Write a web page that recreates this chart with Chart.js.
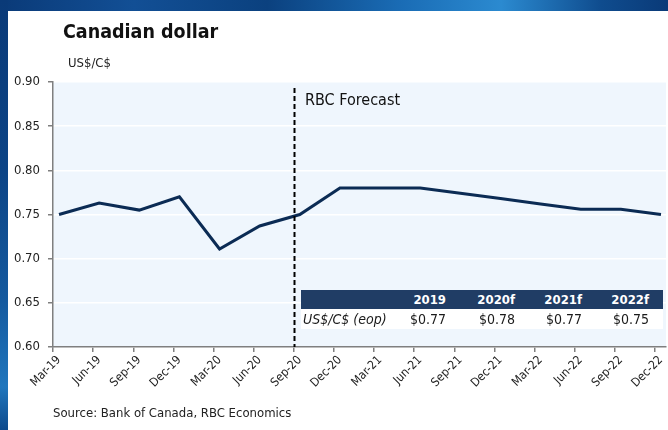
<!DOCTYPE html>
<html>
<head>
<meta charset="utf-8">
<script src="https://cdn.jsdelivr.net/npm/chart.js@4/dist/chart.umd.min.js"></script>
<style>
  html, body { margin:0; padding:0; width:668px; height:430px; overflow:hidden; background:#fff; }
  body { font-family: "DejaVu Sans Condensed", "DejaVu Sans", sans-serif; color:#1a1a1a; }
  #bgTop { position:absolute; left:0; top:0; width:668px; height:11px;
    background: linear-gradient(90deg, #0a3a78 0%, #124f95 20%, #0b417f 40%, #1a6cb5 60%, #2b8ad0 75%, #0f4c8e 90%, #0a3a78 100%); }
  #bgLeft { position:absolute; left:0; top:0; width:8px; height:430px;
    background: linear-gradient(180deg, #0a3a78 0%, #0c4486 40%, #155a9f 70%, #2076bd 90%, #0e4a8c 100%); }
  #panel { position:absolute; left:8px; top:11px; width:660px; height:419px; background:#fff; }
  #wrap { position:absolute; left:0; top:0; width:668px; height:430px; }
  .txt { position:absolute; white-space:nowrap; line-height:1; }
  #title { left:63px; top:22px; font-size:19.5px; font-weight:bold; color:#111; }
  #unit { left:68px; top:56px; font-size:13px; color:#222; }
  #fcLabel { left:305px; top:92px; font-size:16px; color:#111; }
  #source { left:53px; top:406px; font-size:13px; color:#222; }
  #tbl { position:absolute; left:301px; top:290px; width:362px; }
  .row { position:relative; height:19px; }
  .hdr { background:#203d65; color:#fff; font-weight:bold; }
  .body { background:#fff; height:20px; }
  .cell { position:absolute; top:0; line-height:19px; font-size:13px; white-space:nowrap; }
  .body .cell { line-height:21px; font-size:14px; }
</style>
</head>
<body>
<div id="bgTop"></div>
<div id="bgLeft"></div>
<div id="panel"></div>
<div id="wrap"><canvas id="c" width="668" height="430"></canvas></div>
<div class="txt" id="title">Canadian dollar</div>
<div class="txt" id="unit">US$/C$</div>
<div class="txt" id="fcLabel">RBC Forecast</div>
<div class="txt" id="source">Source: Bank of Canada, RBC Economics</div>
<div id="tbl"></div>
<script>
const categories = ['Mar-19','Jun-19','Sep-19','Dec-19','Mar-20','Jun-20','Sep-20','Dec-20',
                    'Mar-21','Jun-21','Sep-21','Dec-21','Mar-22','Jun-22','Sep-22','Dec-22'];
const usdPerCad = [0.750,0.763,0.755,0.770,0.711,0.737,0.750,0.780,
                   0.780,0.780,0.774,0.768,0.762,0.756,0.756,0.750];
const yTickValues = [0.60,0.65,0.70,0.75,0.80,0.85,0.90];
const forecastStart = 'Sep-20';
const tableRowLabel = 'US$/C$ (eop)';
const tableYears = ['2019','2020f','2021f','2022f'];
const tableValues = [0.77,0.78,0.77,0.75];

const FONT = '"DejaVu Sans Condensed", "DejaVu Sans", sans-serif';
const AXIS = '#7f7f7f';

// table
(function(){
  const tbl = document.getElementById('tbl');
  const colRight = [145, 214, 281, 348];
  const hdr = document.createElement('div'); hdr.className = 'row hdr';
  const body = document.createElement('div'); body.className = 'row body';
  const lab = document.createElement('div'); lab.className = 'cell';
  lab.style.left = '2px'; lab.style.fontStyle = 'italic'; lab.textContent = tableRowLabel;
  body.appendChild(lab);
  tableYears.forEach((y,i)=>{
    const h = document.createElement('div'); h.className='cell';
    h.style.right = (362 - colRight[i]) + 'px'; h.textContent = y; hdr.appendChild(h);
    const v = document.createElement('div'); v.className='cell';
    v.style.right = (362 - colRight[i]) + 'px'; v.textContent = '$' + tableValues[i].toFixed(2); body.appendChild(v);
  });
  tbl.appendChild(hdr); tbl.appendChild(body);
})();

const bgPlugin = {
  id: 'plotBg',
  beforeDraw(chart) {
    const {ctx, chartArea:a} = chart;
    ctx.save();
    ctx.fillStyle = '#eff6fd';
    ctx.fillRect(a.left, a.top, a.right - a.left, a.bottom - a.top);
    ctx.restore();
  }
};
const forecastPlugin = {
  id: 'forecastLine',
  afterDatasetsDraw(chart) {
    const {ctx, chartArea:a} = chart;
    const xs = chart.scales.x;
    const px = Math.round(xs.getPixelForTick(categories.indexOf(forecastStart))) + 0.5;
    ctx.save();
    ctx.strokeStyle = '#000';
    ctx.lineWidth = 2;
    ctx.setLineDash([5, 3]);
    ctx.beginPath();
    ctx.moveTo(px, a.top + 6);
    ctx.lineTo(px, a.bottom);
    ctx.stroke();
    ctx.restore();
  }
};

new Chart(document.getElementById('c'), {
  type: 'line',
  data: {
    datasets: [{
      data: usdPerCad.map((v,i)=>({x:i, y:v})),
      borderColor: '#0b2b54',
      borderWidth: 3,
      pointRadius: 0,
      tension: 0,
      fill: false
    }]
  },
  options: {
    responsive: false,
    animation: false,
    events: [],
    layout: { padding: { top: 82, right: 2, left: 0, bottom: 0 } },
    plugins: { legend: { display:false }, tooltip: { enabled:false } },
    scales: {
      x: {
        type: 'linear',
        min: -0.15, max: 15.125,
        afterBuildTicks: s => { s.ticks = categories.map((c,i)=>({value: i - 0.15})); },
        afterFit: s => { s.height = 83; },
        ticks: {
          autoSkip: false, minRotation: 45, maxRotation: 45, labelOffset: 6, padding: 1,
          callback: (v, i) => categories[i],
          font: { family: FONT, size: 12 }, color: '#222'
        },
        grid: { drawOnChartArea: false, tickLength: 5, color: AXIS, lineWidth: 1.5 },
        border: { color: AXIS, width: 1.5 }
      },
      y: {
        min: 0.6, max: 0.9,
        afterBuildTicks: s => { s.ticks = yTickValues.map(v=>({value:v})); },
        afterFit: s => { s.width = 53; },
        ticks: {
          callback: v => v.toFixed(2), padding: 8,
          font: { family: FONT, size: 13 }, color: '#222'
        },
        grid: { color: '#ffffff', lineWidth: 1.5, tickColor: AXIS, tickLength: 5 },
        border: { color: AXIS, width: 1.5 }
      }
    }
  },
  plugins: [bgPlugin, forecastPlugin]
});
</script>
</body>
</html>
